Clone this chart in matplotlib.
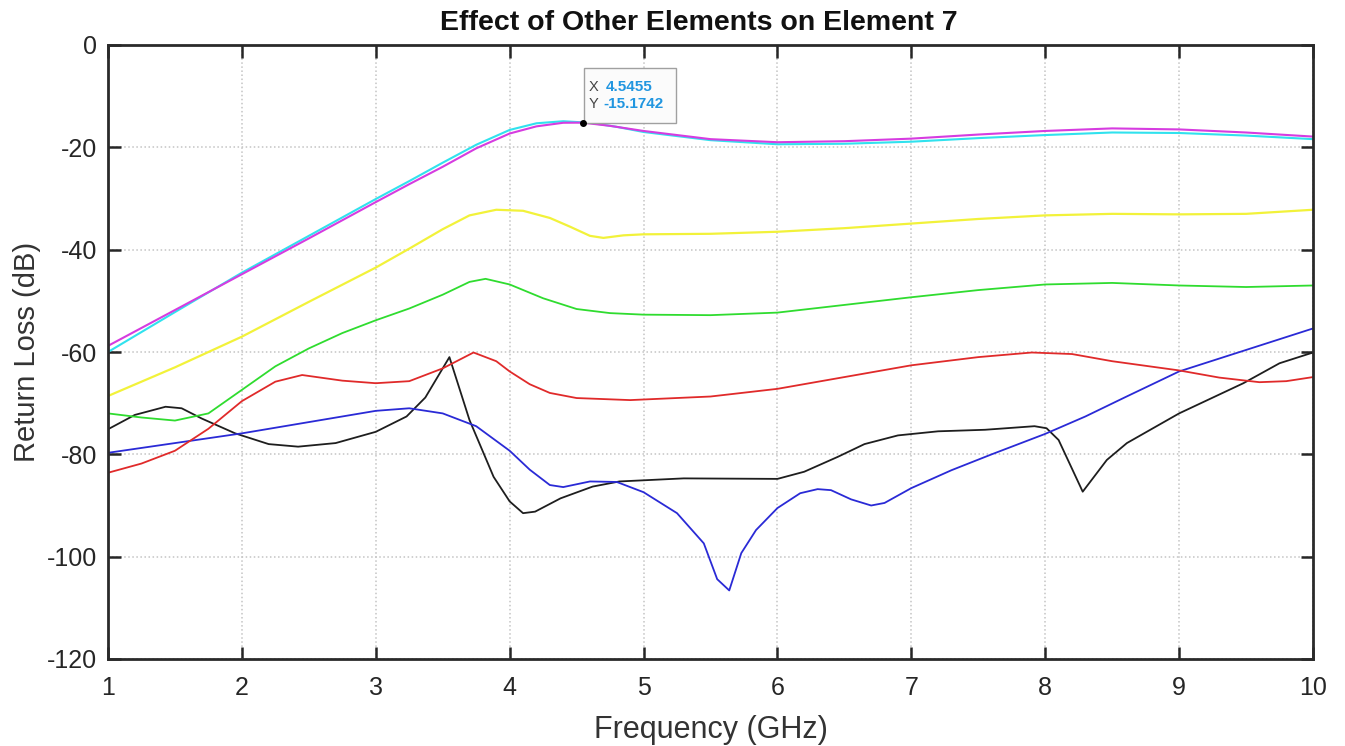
import matplotlib
matplotlib.use("Agg")
import matplotlib.pyplot as plt
from matplotlib.patches import Rectangle
from matplotlib.transforms import ScaledTranslation

plt.rcParams['font.family'] = ['Liberation Sans', 'DejaVu Sans']
plt.rcParams['axes.unicode_minus'] = False

# Return loss of element 7 for each neighbouring element (freq in GHz, dB)
magenta_f = [1.0, 1.5, 2.0, 2.5, 3.0, 3.25, 3.5, 3.75, 4.0, 4.2, 4.4, 4.5455, 4.75,
             5.0, 5.5, 6.0, 6.5, 7.0, 7.5, 8.0, 8.5, 9.0, 9.5, 10.0]
magenta_db = [-58.8, -51.8, -44.8, -37.8, -30.7, -27.2, -23.8, -20.2, -17.3, -15.9, -15.2,
              -15.1742, -15.8, -16.8, -18.4, -19.0, -18.8, -18.3, -17.5, -16.8, -16.3,
              -16.5, -17.1, -17.9]

cyan_f = [1.0, 1.5, 2.0, 2.5, 3.0, 3.25, 3.5, 3.75, 4.0, 4.2, 4.4, 4.6, 4.8, 5.0,
          5.5, 6.0, 6.5, 7.0, 7.5, 8.0, 8.5, 9.0, 9.5, 10.0]
cyan_db = [-60.0, -52.2, -44.5, -37.3, -30.1, -26.6, -23.0, -19.5, -16.6, -15.3, -14.9,
           -15.2, -16.0, -17.0, -18.6, -19.4, -19.3, -18.9, -18.2, -17.6, -17.1, -17.2,
           -17.7, -18.4]

yellow_f = [1.0, 1.5, 2.0, 2.5, 3.0, 3.25, 3.5, 3.7, 3.9, 4.1, 4.3, 4.45, 4.6, 4.7,
            4.85, 5.0, 5.5, 6.0, 6.5, 7.0, 7.5, 8.0, 8.5, 9.0, 9.5, 10.0]
yellow_db = [-68.6, -63.0, -57.0, -50.2, -43.5, -39.8, -36.0, -33.3, -32.2, -32.4, -33.8,
             -35.5, -37.3, -37.7, -37.2, -37.0, -36.9, -36.5, -35.8, -34.9, -34.0, -33.3,
             -33.0, -33.1, -33.0, -32.2]

green_f = [1.0, 1.25, 1.5, 1.75, 2.0, 2.25, 2.5, 2.75, 3.0, 3.25, 3.5, 3.7, 3.82, 4.0,
           4.25, 4.5, 4.75, 5.0, 5.5, 6.0, 6.5, 7.0, 7.5, 8.0, 8.5, 9.0, 9.5, 10.0]
green_db = [-72.0, -72.8, -73.4, -72.0, -67.4, -62.8, -59.3, -56.3, -53.8, -51.5, -48.8,
            -46.3, -45.7, -46.8, -49.5, -51.6, -52.4, -52.7, -52.8, -52.3, -50.8, -49.3,
            -47.9, -46.8, -46.5, -47.0, -47.3, -47.0]

red_f = [1.0, 1.25, 1.5, 1.75, 2.0, 2.25, 2.45, 2.75, 3.0, 3.25, 3.5, 3.73, 3.9, 4.0,
         4.15, 4.3, 4.5, 4.9, 5.5, 6.0, 6.5, 7.0, 7.5, 7.9, 8.2, 8.5, 9.0, 9.3, 9.6,
         9.8, 10.0]
red_db = [-83.6, -81.8, -79.3, -75.0, -69.6, -65.8, -64.5, -65.6, -66.1, -65.7, -63.2,
          -60.1, -61.8, -63.8, -66.3, -68.0, -69.0, -69.4, -68.7, -67.2, -64.9, -62.6,
          -61.0, -60.1, -60.4, -61.8, -63.6, -65.0, -65.9, -65.7, -64.9]

blue_f = [1.0, 1.5, 2.0, 2.5, 3.0, 3.25, 3.5, 3.75, 4.0, 4.15, 4.3, 4.4, 4.6, 4.8, 5.0,
          5.25, 5.45, 5.55, 5.64, 5.73, 5.84, 6.0, 6.17, 6.3, 6.4, 6.55, 6.7, 6.8, 7.0,
          7.3, 7.6, 8.0, 8.3, 8.6, 9.0, 9.5, 10.0]
blue_db = [-79.7, -77.8, -75.9, -73.7, -71.5, -71.0, -72.0, -74.5, -79.3, -83.0, -86.0,
           -86.4, -85.3, -85.4, -87.4, -91.5, -97.4, -104.4, -106.6, -99.3, -94.8, -90.5,
           -87.6, -86.8, -87.0, -88.8, -90.0, -89.5, -86.6, -83.1, -80.0, -76.0, -72.6,
           -68.8, -63.8, -59.6, -55.4]

black_f = [1.0, 1.2, 1.43, 1.55, 1.7, 1.95, 2.2, 2.42, 2.7, 3.0, 3.23, 3.37, 3.55, 3.7,
           3.88, 4.0, 4.1, 4.19, 4.38, 4.62, 4.82, 5.3, 6.0, 6.2, 6.45, 6.65, 6.9, 7.2,
           7.55, 7.92, 8.01, 8.1, 8.28, 8.46, 8.61, 9.0, 9.48, 9.75, 10.0]
black_db = [-75.1, -72.3, -70.7, -71.0, -73.0, -75.9, -78.0, -78.5, -77.8, -75.6, -72.6,
            -68.9, -61.0, -73.3, -84.4, -89.2, -91.5, -91.2, -88.6, -86.3, -85.3, -84.7,
            -84.8, -83.4, -80.5, -78.0, -76.3, -75.5, -75.2, -74.5, -74.9, -77.2, -87.3,
            -81.1, -77.8, -72.0, -66.1, -62.2, -60.1]

x_ticks = [1, 2, 3, 4, 5, 6, 7, 8, 9, 10]
y_ticks = [-120, -100, -80, -60, -40, -20, 0]

tip_x = 4.5455
tip_y = -15.1742

fig = plt.figure(figsize=(13.45, 7.46), dpi=100)
ax = fig.add_axes([108 / 1345, 1 - 659 / 746, (1313 - 108) / 1345, (659 - 45) / 746])

lw = 1.3
ax.plot(black_f, black_db, color='#1e1e1e', lw=lw)
ax.plot(blue_f, blue_db, color='#2a2ad6', lw=lw)
ax.plot(red_f, red_db, color='#e02a2a', lw=lw)
ax.plot(green_f, green_db, color='#2fdc2f', lw=lw)
ax.plot(yellow_f, yellow_db, color='#f2f23a', lw=lw + 0.3)
ax.plot(cyan_f, cyan_db, color='#30e2ee', lw=lw + 0.2)
ax.plot(magenta_f, magenta_db, color='#d63ce0', lw=lw + 0.2)

ax.set_xlim(1, 10)
ax.set_ylim(-120, 0)
ax.set_xticks(x_ticks)
ax.set_yticks(y_ticks)
ax.grid(True, linestyle=':', color='#c4c4c4', linewidth=1.1)
ax.tick_params(direction='in', length=9, width=1.8, labelsize=18,
               top=True, right=True, colors='#262626')
ax.tick_params(axis='x', pad=12)
ax.tick_params(axis='y', pad=8)
for s in ax.spines.values():
    s.set_linewidth(2.0)
    s.set_color('#2a2a2a')

ax.set_title('Effect of Other Elements on Element 7', fontsize=20.5,
             fontweight='bold', pad=11, color='#111111', x=0.49)
ax.set_xlabel('Frequency (GHz)', fontsize=22, color='#333333', labelpad=11)
ax.set_ylabel('Return Loss (dB)', fontsize=21, color='#333333', labelpad=4)

# Data tip at the selected point
ax.plot([tip_x], [tip_y], 'o', color='black', ms=4, zorder=6)
tip_tr = fig.dpi_scale_trans + ScaledTranslation(tip_x, tip_y, ax.transData)
ax.add_patch(Rectangle((0.01, 0.0), 0.92, 0.55, transform=tip_tr,
                       facecolor='#fbfbfb', edgecolor='#a0a0a0', lw=1.0,
                       zorder=5, clip_on=False))
ax.text(0.06, 0.36, 'X', transform=tip_tr, fontsize=10.5, color='#444444',
        va='center', ha='left', zorder=7)
ax.text(0.23, 0.36, f'{tip_x:.4f}', transform=tip_tr, fontsize=11,
        fontweight='bold', color='#2196e0', va='center', ha='left', zorder=7)
ax.text(0.06, 0.19, 'Y', transform=tip_tr, fontsize=10.5, color='#444444',
        va='center', ha='left', zorder=7)
ax.text(0.21, 0.19, f'{tip_y:.4f}', transform=tip_tr, fontsize=11,
        fontweight='bold', color='#2196e0', va='center', ha='left', zorder=7)

fig.savefig('out.png', dpi=100)
